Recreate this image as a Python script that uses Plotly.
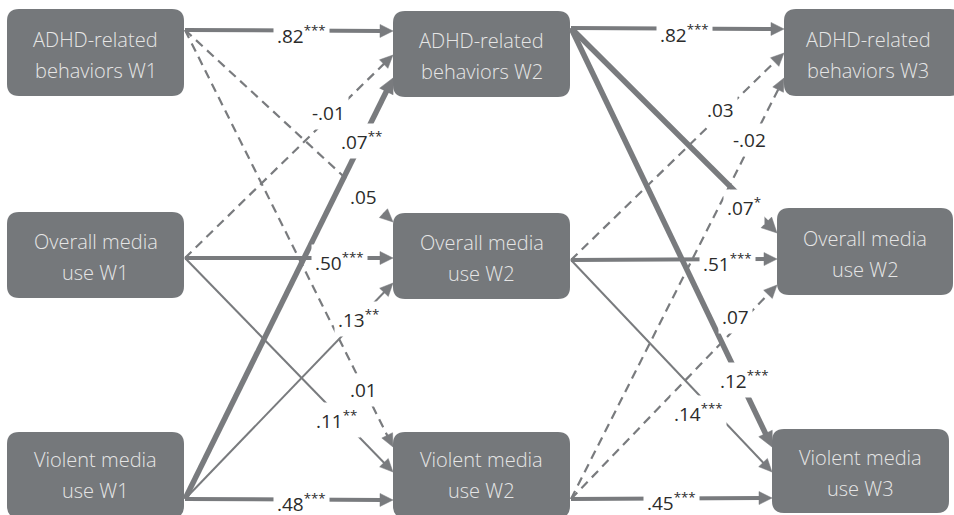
import math
import plotly.graph_objects as go

# ---------------- data ----------------
node_labels = [
    "ADHD-related<br>behaviors W1", "Overall media<br>use W1", "Violent media<br>use W1",
    "ADHD-related<br>behaviors W2", "Overall media<br>use W2", "Violent media<br>use W2",
    "ADHD-related<br>behaviors W3", "Overall media<br>use W2", "Violent media<br>use W3",
]
edge_from = [0, 0, 0, 1, 1, 1, 2, 2, 2, 3, 3, 3, 4, 4, 4, 5, 5, 5]
edge_to = [3, 4, 5, 3, 4, 5, 3, 4, 5, 6, 7, 8, 6, 7, 8, 6, 7, 8]
edge_coef = [".82", ".05", ".01", "-.01", ".50", ".11", ".07", ".13", ".48",
             ".82", ".07", ".12", ".03", ".51", ".14", "-.02", ".07", ".45"]
edge_stars = ["***", "", "", "", "***", "**", "**", "**", "***",
              "***", "*", "***", "", "***", "***", "", "", "***"]

# ---------------- layout / style ----------------
W, H = 954, 515
BOX = "#75787b"
LINE = "#797b7e"
FONT = "Open Sans"
node_boxes = {  # x0, x1, y0, y1
    0: (7, 184, 9, 96), 1: (7, 184, 212, 298), 2: (7, 184, 432, 518),
    3: (393, 570, 11, 97), 4: (393, 570, 213, 299), 5: (393, 570, 432, 518),
    6: (784, 962, 9, 96), 7: (777, 953, 208, 295), 8: (772, 949, 429, 513),
}
out_y = {0: 30, 1: 258, 2: 499, 3: 28, 4: 260, 5: 499}
in_y = {3: [31, 55, 78], 4: [222, 258, 283], 5: [447, 472, 500],
        6: [29, 53, 78], 7: [233, 259, 285], 8: [447, 472, 498]}
edge_style = ["mid", "dash", "dash", "dash", "mid", "thin", "thick", "thin", "mid",
              "mid", "thick", "thick", "dash", "mid", "thin", "dash", "dash", "mid"]
label_t = [0.56, 0.86, 0.86, 0.69, 0.745, 0.73, 0.85, 0.835, 0.56,
           0.535, 0.856, 0.84, 0.70, 0.76, 0.634, 0.84, 0.80, 0.5]
label_dx = [0, 0, 0, 0, 0, 0, 0, 0, 0, 0, -3, 5, 0, 0, 0, 0, 0, 0]
label_dy = [4, 2, 1, -5, 4, 6, 0, 0, 3, 5, 4, 0, -5, 4, 19, -5, -11, 3]
styles = {
    "mid": dict(width=4, dash="solid", L=13, hw=6.5),
    "thin": dict(width=2, dash="solid", L=13, hw=6),
    "thick": dict(width=5.5, dash="solid", L=15, hw=7.5),
    "dash": dict(width=2.2, dash="9px,6px", L=13, hw=6),
}

fig = go.Figure()
shapes = []
annotations = []

# boxes
r = 12
for i, lab in enumerate(node_labels):
    x0, x1, y0, y1 = node_boxes[i]
    path = (f"M {x0+r},{y0} L {x1-r},{y0} Q {x1},{y0} {x1},{y0+r} L {x1},{y1-r} "
            f"Q {x1},{y1} {x1-r},{y1} L {x0+r},{y1} Q {x0},{y1} {x0},{y1-r} "
            f"L {x0},{y0+r} Q {x0},{y0} {x0+r},{y0} Z")
    shapes.append(dict(type="path", path=path, fillcolor=BOX, line=dict(width=0),
                       layer="below", xref="x", yref="y"))
    cx = (x0 + min(x1, W)) / 2 if i != 6 else (x0 + 952) / 2
    cy = (y0 + min(y1, 513)) / 2 + 2
    for k, part in enumerate(lab.split("<br>")):
        annotations.append(dict(x=cx, y=cy + (k - 0.5) * 31, text=part, showarrow=False,
                                xref="x", yref="y",
                                font=dict(family=FONT, size=20, color="#e6e6e6", weight=300)))

# edges
for j in range(len(edge_from)):
    s, t = edge_from[j], edge_to[j]
    st = styles[edge_style[j]]
    sx = node_boxes[s][1] + 1
    sy = out_y[s]
    tx = node_boxes[t][0]
    ty = in_y[t][s % 3]
    dx, dy = tx - sx, ty - sy
    d = math.hypot(dx, dy)
    ux, uy = dx / d, dy / d
    L, hw = st["L"], st["hw"]
    ex, ey = tx - ux * L * 0.8, ty - uy * L * 0.8
    fig.add_trace(go.Scatter(x=[sx, ex], y=[sy, ey], mode="lines",
                             line=dict(color=LINE, width=st["width"], dash=st["dash"]),
                             hoverinfo="skip", showlegend=False))
    bx, by = tx - ux * L, ty - uy * L
    px, py = -uy, ux
    fig.add_trace(go.Scatter(x=[tx, bx + px * hw, bx - px * hw, tx],
                             y=[ty, by + py * hw, by - py * hw, ty],
                             mode="lines", fill="toself", fillcolor=LINE,
                             line=dict(color=LINE, width=0.5),
                             hoverinfo="skip", showlegend=False))
    lx = sx + label_t[j] * dx + label_dx[j]
    ly = sy + label_t[j] * dy + label_dy[j]
    txt = edge_coef[j] + (f"<sup>{edge_stars[j]}</sup>" if edge_stars[j] else "")
    annotations.append(dict(x=lx, y=ly, text=txt, showarrow=False, xref="x", yref="y",
                            bgcolor="white", borderpad=3,
                            font=dict(family=FONT, size=19, color="#2b2b2b", weight=400)))

fig.update_layout(
    width=W, height=H, margin=dict(l=0, r=0, t=0, b=0),
    plot_bgcolor="white", paper_bgcolor="white",
    xaxis=dict(range=[0, W], visible=False, fixedrange=True),
    yaxis=dict(range=[H, 0], visible=False, fixedrange=True),
    shapes=shapes, annotations=annotations, showlegend=False,
)
fig.write_html("out.html", config={"displayModeBar": False, "staticPlot": True},
               post_script="document.body.style.margin='0';"
                           "document.body.style.overflow='hidden';")
